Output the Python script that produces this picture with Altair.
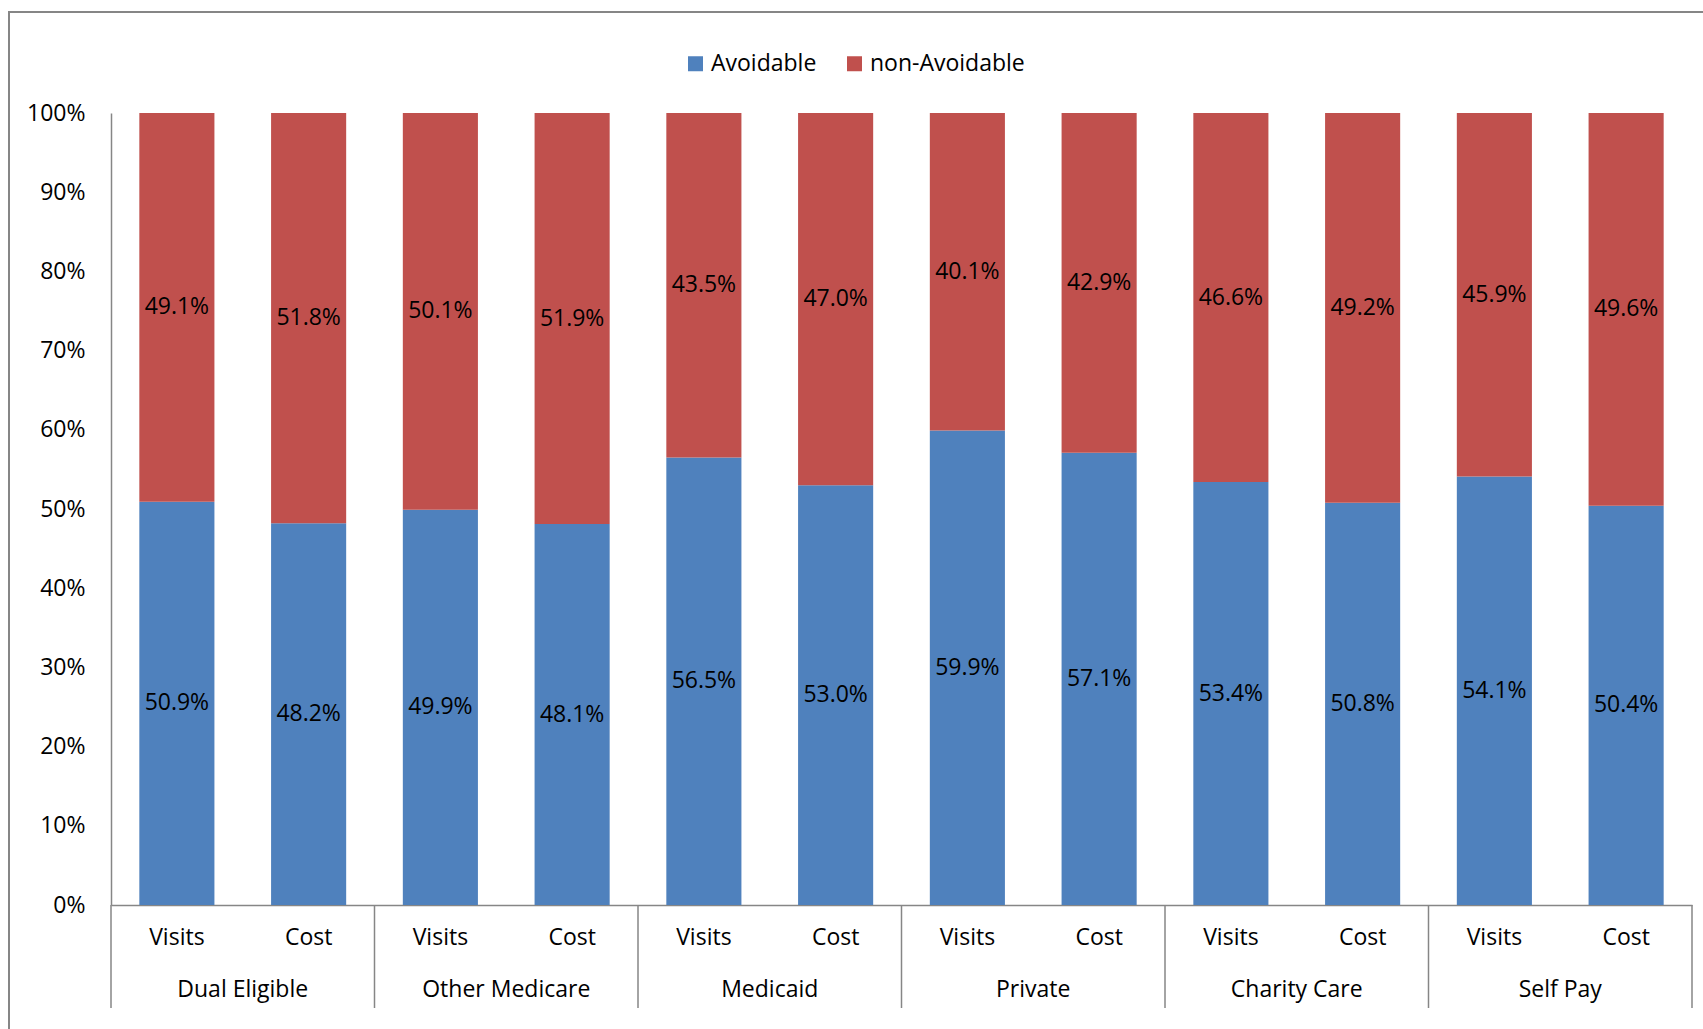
import altair as alt
import pandas as pd

groups = ["Dual Eligible", "Other Medicare", "Medicaid", "Private", "Charity Care", "Self Pay"]
metrics = ["Visits", "Cost"]
avoidable = [50.9, 48.2, 49.9, 48.1, 56.5, 53.0, 59.9, 57.1, 53.4, 50.8, 54.1, 50.4]
non_avoidable = [49.1, 51.8, 50.1, 51.9, 43.5, 47.0, 40.1, 42.9, 46.6, 49.2, 45.9, 49.6]
series = ["Avoidable", "non-Avoidable"]
colors = ["#4F81BD", "#C0504D"]

FONT = "Open Sans"
FS = 23
AXIS_GRAY = "#868686"

keys = []
rows = []
i = 0
for g in groups:
    for m in metrics:
        k = f"{g}|{m}"
        keys.append(k)
        rows.append({"key": k, "group": g, "metric": m, "series": series[0], "order": 0, "value": avoidable[i]})
        rows.append({"key": k, "group": g, "metric": m, "series": series[1], "order": 1, "value": non_avoidable[i]})
        i += 1
df = pd.DataFrame(rows)

cat_df = pd.DataFrame({"key": keys, "metric": [k.split("|")[1] for k in keys]})
grp_df = pd.DataFrame({"pos": [2 * j + 1 for j in range(len(groups))], "group": groups})
sep_df = pd.DataFrame({"pos": [2 * j for j in range(len(groups) + 1)]})

band = alt.Scale(domain=keys, paddingInner=0.43, paddingOuter=0.215)
yaxis = alt.Axis(
    values=list(range(0, 101, 10)), labelExpr="datum.value + '%'", title=None,
    grid=False, ticks=False, tickSize=0, labelPadding=26, labelFont=FONT, labelFontSize=FS,
    labelColor="#000000", domainColor=AXIS_GRAY, domainWidth=1.5,
)
yscale = alt.Scale(domain=[0, 100], nice=False)

base = alt.Chart(df).transform_stack(
    stack="value", groupby=["key"], as_=["v0", "v1"], sort=[alt.SortField("order")]
).transform_calculate(
    mid="(datum.v0 + datum.v1) / 2",
    lbl="format(datum.value, '.1f') + '%'",
)

bars = base.mark_bar().encode(
    x=alt.X("key:N", scale=band, axis=alt.Axis(labels=False, ticks=False, title=None,
                                               domainColor=AXIS_GRAY, domainWidth=1.5)),
    y=alt.Y("v0:Q", scale=yscale, axis=yaxis),
    y2="v1:Q",
    color=alt.Color("series:N", scale=alt.Scale(domain=series, range=colors),
                    legend=alt.Legend(orient="none", legendX=573, legendY=-61, direction="horizontal",
                                      title=None, symbolType="square", symbolSize=225,
                                      symbolStrokeWidth=0, labelFont=FONT, labelFontSize=FS,
                                      labelColor="#000000", labelOffset=4, columnPadding=26,
                                      padding=0)),
)

labels = base.mark_text(font=FONT, fontSize=FS, color="#000000", baseline="middle").encode(
    x=alt.X("key:N", scale=band, axis=None),
    y=alt.Y("mid:Q", scale=yscale, axis=yaxis),
    text="lbl:N",
)

cat_labels = alt.Chart(cat_df).mark_text(font=FONT, fontSize=FS, color="#000000", baseline="middle").encode(
    x=alt.X("key:N", scale=band, axis=None),
    y=alt.value(825),
    text="metric:N",
)

qscale = alt.Scale(domain=[0, 12], nice=False, zero=False)

grp_labels = alt.Chart(grp_df).mark_text(font=FONT, fontSize=FS, color="#000000", baseline="middle").encode(
    x=alt.X("pos:Q", scale=qscale, axis=None),
    y=alt.value(877),
    text="group:N",
)

seps = alt.Chart(sep_df).mark_rule(color=AXIS_GRAY, strokeWidth=1.5).encode(
    x=alt.X("pos:Q", scale=qscale, axis=None),
    y=alt.value(792),
    y2=alt.value(895),
)

border = alt.Chart(pd.DataFrame({"a": [0]})).mark_rect(
    fill=None, stroke=AXIS_GRAY, strokeWidth=2
).encode(
    x=alt.value(-102), x2=alt.value(1700), y=alt.value(-101), y2=alt.value(1000),
)

chart = alt.layer(border, bars, labels, cat_labels, grp_labels, seps).resolve_scale(
    x="independent"
).properties(
    width=1581, height=792,
    padding={"left": 111, "top": 113, "right": 11, "bottom": 124},
    autosize=alt.AutoSizeParams(type="none"),
    background="white",
).configure_view(stroke=None)

chart.save("out.html", embed_options={"renderer": "svg", "actions": False})
